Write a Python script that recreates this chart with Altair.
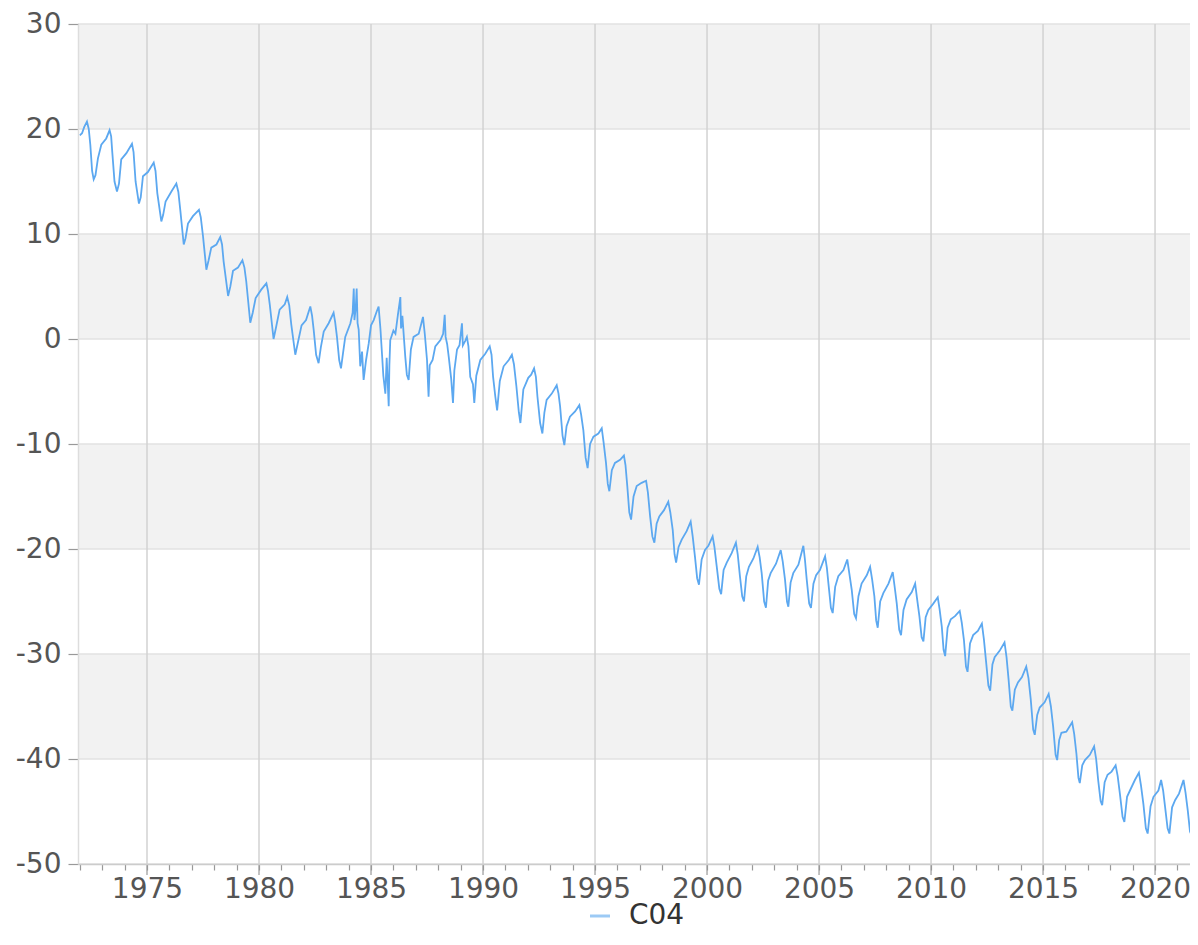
import altair as alt
import pandas as pd

# ---- data ----
series_name = "C04"
years = [
    1972.00, 1972.10, 1972.20, 1972.32, 1972.40, 1972.47, 1972.55, 1972.62, 1972.70, 1972.81, 1972.96,
    1973.18, 1973.33, 1973.40, 1973.45, 1973.55, 1973.66, 1973.75, 1973.85,
    1974.08, 1974.33, 1974.40, 1974.49, 1974.64, 1974.72, 1974.82,
    1975.04, 1975.30, 1975.38, 1975.46, 1975.64, 1975.72, 1975.83,
    1976.09, 1976.31, 1976.40, 1976.49, 1976.64, 1976.72, 1976.83,
    1977.05, 1977.32, 1977.40, 1977.50, 1977.65, 1977.75, 1977.87,
    1978.10, 1978.27, 1978.35, 1978.42, 1978.62, 1978.72, 1978.84,
    1979.06, 1979.26, 1979.35, 1979.43, 1979.61, 1979.72, 1979.85,
    1980.10, 1980.33, 1980.40, 1980.48, 1980.65, 1980.75, 1980.92,
    1981.15, 1981.26, 1981.35, 1981.44, 1981.62, 1981.72, 1981.90,
    1982.10, 1982.29, 1982.37, 1982.44, 1982.55, 1982.66, 1982.76, 1982.89,
    1983.11, 1983.33, 1983.40, 1983.48, 1983.58, 1983.66, 1983.76, 1983.85,
    1984.08, 1984.18, 1984.23, 1984.26, 1984.32, 1984.36, 1984.40, 1984.45, 1984.52, 1984.60, 1984.67, 1984.78, 1984.90,
    1985.00, 1985.12, 1985.25, 1985.34, 1985.42, 1985.49, 1985.55, 1985.64, 1985.70, 1985.79, 1985.82, 1985.86,
    1986.00, 1986.09, 1986.20, 1986.31, 1986.34, 1986.40, 1986.53, 1986.60, 1986.68, 1986.78, 1986.90,
    1987.13, 1987.25, 1987.32, 1987.40, 1987.50, 1987.57, 1987.62, 1987.75, 1987.87,
    1988.10, 1988.22, 1988.29, 1988.33, 1988.40, 1988.47, 1988.58, 1988.66, 1988.72, 1988.84, 1988.95,
    1989.06, 1989.10, 1989.20, 1989.28, 1989.35, 1989.43, 1989.55, 1989.61, 1989.70, 1989.88,
    1990.10, 1990.30, 1990.38, 1990.45, 1990.55, 1990.63, 1990.75, 1990.92,
    1991.15, 1991.29, 1991.38, 1991.49, 1991.60, 1991.67, 1991.80,
    1992.02, 1992.15, 1992.28, 1992.36, 1992.43, 1992.55, 1992.65, 1992.74, 1992.84,
    1993.07, 1993.29, 1993.37, 1993.44, 1993.55, 1993.63, 1993.73, 1993.88,
    1994.11, 1994.30, 1994.38, 1994.48, 1994.58, 1994.67, 1994.78, 1994.93,
    1995.15, 1995.30, 1995.38, 1995.49, 1995.57, 1995.64, 1995.75, 1995.89,
    1996.12, 1996.29, 1996.36, 1996.44, 1996.53, 1996.61, 1996.72, 1996.86,
    1997.08, 1997.28, 1997.36, 1997.46, 1997.56, 1997.65, 1997.75, 1997.87,
    1998.08, 1998.27, 1998.36, 1998.47, 1998.55, 1998.62, 1998.73, 1998.87,
    1999.09, 1999.27, 1999.36, 1999.46, 1999.56, 1999.64, 1999.76, 1999.91,
    2000.06, 2000.25, 2000.33, 2000.43, 2000.55, 2000.63, 2000.74, 2000.88,
    2001.10, 2001.29, 2001.37, 2001.47, 2001.57, 2001.65, 2001.75, 2001.87,
    2002.07, 2002.26, 2002.35, 2002.44, 2002.55, 2002.63, 2002.73, 2002.84,
    2003.08, 2003.29, 2003.38, 2003.48, 2003.57, 2003.63, 2003.73, 2003.85,
    2004.08, 2004.30, 2004.37, 2004.45, 2004.56, 2004.64, 2004.75, 2004.87,
    2005.04, 2005.27, 2005.35, 2005.42, 2005.53, 2005.61, 2005.72, 2005.86,
    2006.09, 2006.26, 2006.35, 2006.46, 2006.57, 2006.65, 2006.76, 2006.90,
    2007.13, 2007.28, 2007.37, 2007.47, 2007.55, 2007.62, 2007.73, 2007.87,
    2008.10, 2008.29, 2008.37, 2008.47, 2008.58, 2008.66, 2008.77, 2008.91,
    2009.14, 2009.29, 2009.38, 2009.48, 2009.58, 2009.66, 2009.76, 2009.88,
    2010.10, 2010.30, 2010.38, 2010.48, 2010.56, 2010.63, 2010.74, 2010.88,
    2011.07, 2011.28, 2011.37, 2011.47, 2011.56, 2011.63, 2011.74, 2011.88,
    2012.09, 2012.27, 2012.36, 2012.46, 2012.56, 2012.64, 2012.74, 2012.84,
    2013.06, 2013.28, 2013.37, 2013.46, 2013.56, 2013.63, 2013.74, 2013.88,
    2014.06, 2014.25, 2014.35, 2014.45, 2014.56, 2014.63, 2014.74, 2014.85,
    2015.07, 2015.25, 2015.35, 2015.45, 2015.56, 2015.63, 2015.72, 2015.82,
    2016.04, 2016.30, 2016.39, 2016.49, 2016.58, 2016.64, 2016.75, 2016.87,
    2017.09, 2017.28, 2017.37, 2017.46, 2017.57, 2017.64, 2017.75, 2017.88,
    2018.06, 2018.24, 2018.33, 2018.43, 2018.55, 2018.63, 2018.75, 2018.88,
    2019.10, 2019.28, 2019.37, 2019.48, 2019.59, 2019.67, 2019.80, 2019.93,
    2020.15, 2020.27, 2020.36, 2020.45, 2020.56, 2020.64, 2020.76, 2020.90,
    2021.07, 2021.27, 2021.36, 2021.46, 2021.56, 2021.64, 2021.74, 2021.82, 2021.94,
]
values = [
    19.4, 19.6, 20.2, 20.7, 20.0, 18.5, 16.0, 15.2, 15.6, 17.2, 18.5,
    19.1, 19.9, 19.3, 17.8, 15.0, 14.05, 14.8, 17.1,
    17.7, 18.6, 17.8, 15.0, 12.9, 13.5, 15.5,
    15.9, 16.8, 16.0, 13.9, 11.2, 11.8, 13.1,
    14.05, 14.8, 14.0, 12.2, 9.0, 9.6, 11.0,
    11.7, 12.3, 11.6, 9.8, 6.6, 7.5, 8.7,
    9.0, 9.7, 9.0, 7.4, 4.1, 5.0, 6.5,
    6.8, 7.5, 6.8, 5.5, 1.55, 2.5, 3.9,
    4.7, 5.3, 4.6, 3.3, 0.0, 1.0, 2.8,
    3.3, 4.0, 3.2, 1.4, -1.5, -0.5, 1.3,
    1.8, 3.1, 2.2, 0.9, -1.5, -2.3, -0.8, 0.7,
    1.5, 2.5, 1.6, 0.2, -2.0, -2.8, -1.2, 0.2,
    1.5, 2.5, 4.8, 1.8, 3.0, 4.8, 1.5, 0.9, -2.6, -1.2, -3.9, -2.0, -0.4,
    1.3, 1.8, 2.6, 3.1, 1.0, -1.4, -3.5, -5.2, -1.8, -6.4, -2.5, -0.1,
    0.8, 0.5, 2.3, 4.0, 1.0, 2.2, -1.7, -3.4, -3.9, -1.0, 0.2,
    0.5, 1.5, 2.1, 0.5, -2.0, -5.5, -2.5, -2.0, -0.7,
    -0.1, 0.5, 2.3, 0.2, -0.5, -1.7, -3.8, -6.1, -3.0, -1.0, -0.6,
    1.5, -0.6, -0.2, 0.2, -0.7, -3.6, -4.3, -6.1, -3.5, -2.0,
    -1.4, -0.7, -1.5, -3.6, -5.5, -6.8, -4.0, -2.6,
    -2.0, -1.5, -2.4, -4.5, -7.0, -8.0, -4.8,
    -3.7, -3.4, -2.8, -3.6, -5.5, -8.0, -9.0, -7.0, -5.8,
    -5.2, -4.4, -5.2, -6.4, -9.2, -10.1, -8.3, -7.4,
    -6.9, -6.3, -7.2, -8.7, -11.3, -12.3, -10.0, -9.3,
    -9.0, -8.5, -9.8, -11.8, -13.8, -14.5, -12.5, -11.8,
    -11.5, -11.1, -12.0, -14.0, -16.5, -17.2, -15.0, -14.0,
    -13.7, -13.5, -14.6, -16.9, -18.8, -19.4, -17.6, -16.9,
    -16.3, -15.5, -16.5, -18.2, -20.5, -21.3, -19.8, -19.1,
    -18.3, -17.4, -18.8, -20.7, -22.8, -23.4, -21.0, -20.1,
    -19.7, -18.8, -19.8, -21.6, -23.8, -24.3, -22.0, -21.3,
    -20.4, -19.4, -20.5, -22.6, -24.5, -25.0, -22.6, -21.7,
    -20.9, -19.8, -20.8, -22.3, -25.0, -25.6, -23.0, -22.3,
    -21.4, -20.1, -21.2, -22.9, -25.0, -25.5, -23.2, -22.3,
    -21.5, -19.7, -21.0, -22.9, -25.2, -25.6, -23.3, -22.5,
    -22.0, -20.7, -21.8, -23.3, -25.6, -26.1, -23.6, -22.6,
    -22.0, -21.0, -22.3, -23.9, -26.2, -26.6, -24.5, -23.3,
    -22.5, -21.7, -22.9, -24.5, -26.8, -27.5, -25.0, -24.2,
    -23.3, -22.2, -23.5, -25.2, -27.7, -28.2, -25.8, -24.8,
    -24.1, -23.3, -24.8, -26.4, -28.4, -28.8, -26.5, -25.8,
    -25.2, -24.6, -25.7, -27.4, -29.6, -30.2, -27.5, -26.7,
    -26.4, -25.9, -27.0, -28.7, -31.2, -31.7, -29.0, -28.2,
    -27.8, -27.1, -28.6, -30.8, -33.0, -33.5, -31.0, -30.3,
    -29.7, -28.9, -30.3, -32.4, -35.0, -35.4, -33.4, -32.7,
    -32.2, -31.2, -32.3, -34.3, -37.2, -37.7, -35.8, -35.1,
    -34.6, -33.8, -35.0, -36.9, -39.6, -40.1, -38.2, -37.5,
    -37.4, -36.5, -37.6, -39.5, -41.8, -42.3, -40.6, -40.1,
    -39.6, -38.8, -40.0, -42.0, -44.0, -44.4, -42.2, -41.5,
    -41.2, -40.6, -41.6, -43.3, -45.5, -46.0, -43.6, -43.0,
    -42.0, -41.3, -42.5, -44.3, -46.6, -47.1, -44.5, -43.6,
    -43.0, -42.0, -43.0, -44.6, -46.6, -47.1, -44.6, -43.9,
    -43.3, -42.0, -43.2, -44.9, -46.9, -47.3, -45.5, -44.9, -44.3,
]

x_major = [1975, 1980, 1985, 1990, 1995, 2000, 2005, 2010, 2015, 2020]
x_minor = list(range(1972, 2022))
y_ticks = [-50, -40, -30, -20, -10, 0, 10, 20, 30]
band_low = [20, 0, -20, -40]
band_high = [30, 10, -10, -30]

# ---- layout / style ----
W, H = 1112, 840
FONT = "DejaVu Sans"
LINE_COLOR = "#5ca8f0"
xscale = alt.Scale(domain=[1971.92, 2021.56], nice=False, zero=False)
yscale = alt.Scale(domain=[-50, 30], nice=False, zero=False)

xaxis = alt.Axis(
    title=None,
    values=x_minor,
    format="d",
    labelExpr="datum.value % 5 === 0 ? datum.label : ''",
    grid=False,
    tickSize=6,
    tickColor="#999999",
    tickWidth=1.2,
    domainColor="#cccccc",
    domainWidth=1.5,
    labelFont=FONT,
    labelFontSize=28,
    labelColor="#555555",
    labelPadding=5,
    labelOverlap=False,
    labelFlush=False,
    zindex=1,
)
yaxis = alt.Axis(
    title=None,
    values=y_ticks,
    labelExpr="'' + datum.value",
    grid=False,
    tickSize=10,
    tickColor="#999999",
    tickWidth=1.2,
    domainColor="#dddddd",
    domainWidth=1.5,
    labelFont=FONT,
    labelFontSize=28,
    labelColor="#555555",
    labelPadding=7,
    labelFlush=False,
    zindex=1,
)

df = pd.DataFrame({"t": years, "v": values, "s": series_name})
bands = pd.DataFrame({"lo": band_low, "hi": band_high})
vgrid = pd.DataFrame({"x": x_major})
hgrid = pd.DataFrame({"y": y_ticks})

band_layer = alt.Chart(bands).mark_rect(color="#f2f2f2").encode(
    y=alt.Y("lo:Q", scale=yscale, axis=yaxis),
    y2="hi:Q",
    x=alt.value(0),
    x2=alt.value(W),
)

hgrid_layer = alt.Chart(hgrid).mark_rule(color="#e2e2e2", strokeWidth=1.5).encode(
    y=alt.Y("y:Q", scale=yscale, axis=yaxis)
)

vgrid_layer = alt.Chart(vgrid).mark_rule(color="#d2d2d2", strokeWidth=1.5).encode(
    x=alt.X("x:Q", scale=xscale, axis=xaxis)
)

major_ticks = alt.Chart(vgrid).mark_rule(color="#999999", strokeWidth=1.2).encode(
    x=alt.X("x:Q", scale=xscale, axis=xaxis),
    y=alt.value(H),
    y2=alt.value(H + 11),
)

line_layer = alt.Chart(df).mark_line(strokeWidth=1.8, clip=True).encode(
    x=alt.X("t:Q", scale=xscale, axis=xaxis),
    y=alt.Y("v:Q", scale=yscale, axis=yaxis),
    color=alt.Color(
        "s:N",
        scale=alt.Scale(range=[LINE_COLOR]),
        legend=alt.Legend(
            title=None,
            orient="none",
            legendX=508,
            legendY=878,
            padding=0,
            symbolType="stroke",
            symbolSize=400,
            symbolStrokeWidth=3,
            symbolOpacity=0.6,
            labelFont=FONT,
            labelFontSize=28,
            labelColor="#333333",
            labelOffset=15,
        ),
    ),
)

chart = (
    alt.layer(band_layer, hgrid_layer, vgrid_layer, major_ticks, line_layer)
    .properties(
        width=W,
        height=H,
        autosize=alt.AutoSizeParams(type="none"),
        padding={"left": 70, "top": 16, "right": 0, "bottom": 73},
    )
    .configure_view(stroke=None)
)

chart.save("out.html", embed_options={"renderer": "svg", "actions": False})
